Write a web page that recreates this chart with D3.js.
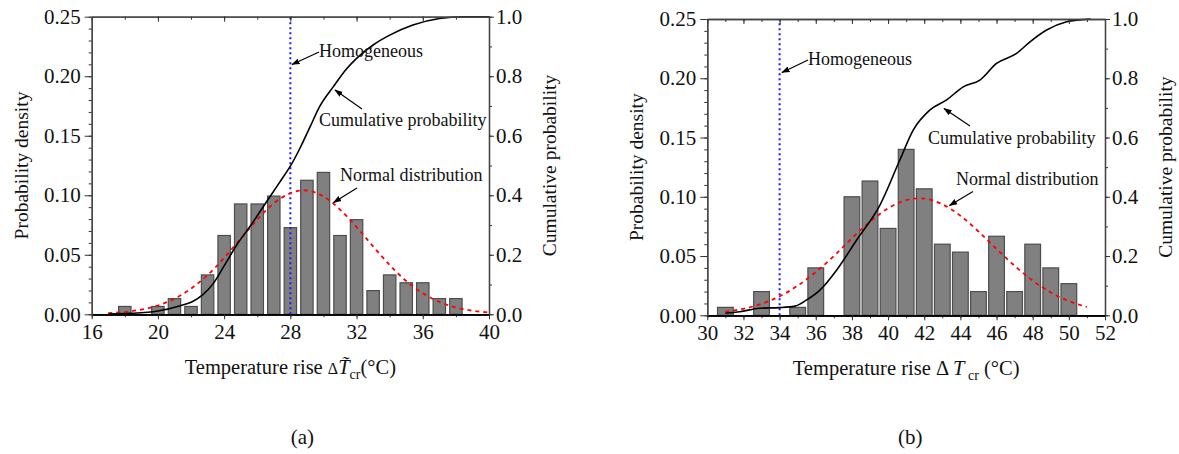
<!DOCTYPE html>
<html>
<head>
<meta charset="utf-8">
<script src="https://cdn.jsdelivr.net/npm/d3@7"></script>
<style>
body { margin: 0; background: #fff; }
svg text { font-family: "Liberation Serif", "Times New Roman", serif; fill: #111; }
</style>
</head>
<body>
<svg id="chart" width="1179" height="454"></svg>
<script>
// Panel (a): histogram bins (centre of bin) and probability density
var binsA = [18, 20, 21, 22, 23, 24, 25, 26, 27, 28, 29, 30, 31, 32, 33, 34, 35, 36, 37, 38];
var densA = [0.0066, 0.0066, 0.0132, 0.0066, 0.0331, 0.0662, 0.0927, 0.0927, 0.0993, 0.0728,
	0.1126, 0.1192, 0.0662, 0.0795, 0.0199, 0.0331, 0.0265, 0.0265, 0.0132, 0.0132];
// normal distribution
var normXA = [17, 18, 19, 20, 21, 22, 23, 24, 25, 26, 27, 28, 29, 30, 31, 32, 33, 34, 35, 36, 37, 38, 39, 40];
var normYA = [0.0009, 0.0019, 0.004, 0.0074, 0.0131, 0.0216, 0.033, 0.0474, 0.0636, 0.0796, 0.0932, 0.1017,
	0.104, 0.099, 0.088, 0.0733, 0.057, 0.0414, 0.028, 0.0177, 0.0105, 0.0058, 0.003, 0.0015];
// cumulative probability
var cumXA = [17, 18.3, 20, 21.3, 22.1, 22.7, 23.35, 23.97, 24.76, 25.56, 26.37, 26.97, 27.58, 27.98,
	28.58, 29.19, 29.79, 30.6, 31.4, 32, 33, 34, 35.4, 37, 38.45, 40];
var cumYA = [0.001, 0.003, 0.011, 0.028, 0.043, 0.065, 0.104, 0.16, 0.233, 0.295, 0.362, 0.412, 0.462, 0.496,
	0.558, 0.63, 0.70, 0.765, 0.825, 0.86, 0.905, 0.938, 0.972, 0.994, 1.0, 1.0];
var homoA = 28;

// Panel (b)
var binsB = [31, 33, 35, 36, 38, 39, 40, 41, 42, 43, 44, 45, 46, 47, 48, 49, 50];
var densB = [0.0067, 0.02, 0.0067, 0.04, 0.1, 0.1133, 0.0733, 0.14, 0.1067, 0.06, 0.0533, 0.02,
	0.0667, 0.02, 0.06, 0.04, 0.0267];
var normXB = [31, 32, 33, 34, 35, 36, 37, 38, 39, 40, 41, 42, 43, 44, 45, 46, 47, 48, 49, 50, 51];
var normYB = [0.003, 0.0055, 0.0097, 0.016, 0.025, 0.0365, 0.05, 0.065, 0.079, 0.0903, 0.0972, 0.0985,
	0.0937, 0.084, 0.0707, 0.056, 0.0418, 0.0293, 0.0193, 0.012, 0.007];
var cumXB = [31, 31.8, 32.9, 34, 34.85, 35.5, 36.23, 37.16, 38.26, 39.55, 40.65, 41.39, 42.32, 43.24,
	44.16, 45.08, 46, 47.11, 47.85, 48.77, 49.88, 50.6, 51.2];
var cumYB = [0.007, 0.012, 0.024, 0.026, 0.031, 0.052, 0.085, 0.153, 0.254, 0.372, 0.524, 0.625, 0.693, 0.727,
	0.771, 0.794, 0.85, 0.884, 0.923, 0.963, 0.991, 0.997, 1.0];
var homoB = 34;

// axis ticks
var densTicks = [0, 0.05, 0.1, 0.15, 0.2, 0.25];
var cumTicks = [0, 0.2, 0.4, 0.6, 0.8, 1.0];

var svg = d3.select("#chart");

var defs = svg.append("defs");
defs.append("marker").attr("id", "arrow")
	.attr("viewBox", "0 0 10 10").attr("refX", 9).attr("refY", 5)
	.attr("markerWidth", 7).attr("markerHeight", 7).attr("orient", "auto")
	.append("path").attr("d", "M0,1.5 L10,5 L0,8.5 Z").attr("fill", "#000");

function drawPanel (p)
{
	var x = d3.scaleLinear().domain(p.xDomain).range([p.left, p.right]);
	var y = d3.scaleLinear().domain([0, 0.25]).range([p.bottom, p.top]);
	var y2 = d3.scaleLinear().domain([0, 1]).range([p.bottom, p.top]);
	var g = svg.append("g");

	// bars
	var bw = x(p.xDomain[0] + p.barW) - x(p.xDomain[0]);
	g.selectAll("rect.bar").data(p.bins).enter().append("rect")
		.attr("class", "bar")
		.attr("x", function (d) {return x(d) - bw/2;})
		.attr("y", function (d, i) {return y(p.dens[i]);})
		.attr("width", bw)
		.attr("height", function (d, i) {return y(0) - y(p.dens[i]);})
		.attr("fill", "#808080").attr("stroke", "#4d4d4d").attr("stroke-width", 1.2);

	// homogeneous line
	g.append("line")
		.attr("x1", x(p.homo)).attr("x2", x(p.homo))
		.attr("y1", y(0)).attr("y2", y(0.25))
		.attr("stroke", "#1a1aff").attr("stroke-width", 2).attr("stroke-dasharray", "2,3");

	// normal distribution
	g.append("path")
		.datum(d3.zip(p.normX, p.normY))
		.attr("d", d3.line().x(function (d) {return x(d[0]);}).y(function (d) {return y(d[1]);}).curve(d3.curveNatural))
		.attr("fill", "none").attr("stroke", "#ff0000").attr("stroke-width", 1.8).attr("stroke-dasharray", "4,4");

	// cumulative probability
	g.append("path")
		.datum(d3.zip(p.cumX, p.cumY))
		.attr("d", d3.line().x(function (d) {return x(d[0]);}).y(function (d) {return y2(d[1]);}).curve(d3.curveMonotoneX))
		.attr("fill", "none").attr("stroke", "#000").attr("stroke-width", 1.6);

	// axes
	var xMajor = d3.range(p.xDomain[0], p.xDomain[1] + 0.01, p.xMajor);
	var xMinor = d3.range(p.xDomain[0], p.xDomain[1] + 0.01, p.xMinor);
	var yMinor = d3.range(0, 0.2501, 0.01);
	var y2Minor = d3.range(0, 1.001, 0.1);

	var axB = g.append("g").attr("transform", "translate(0," + p.bottom + ")");
	axB.append("g").call(d3.axisBottom(x).tickValues(xMinor).tickSize(3).tickSizeOuter(0).tickFormat(""));
	axB.append("g").call(d3.axisBottom(x).tickValues(xMajor).tickSize(5).tickSizeOuter(0).tickPadding(5).tickFormat(d3.format("d")));

	var axT = g.append("g").attr("transform", "translate(0," + p.top + ")");
	axT.append("g").call(d3.axisTop(x).tickValues(xMinor).tickSize(-3).tickSizeOuter(0).tickFormat(""));
	axT.append("g").call(d3.axisTop(x).tickValues(xMajor).tickSize(-5).tickSizeOuter(0).tickFormat(""));

	var axL = g.append("g").attr("transform", "translate(" + p.left + ",0)");
	axL.append("g").call(d3.axisLeft(y).tickValues(yMinor).tickSize(3).tickSizeOuter(0).tickFormat(""));
	axL.append("g").call(d3.axisLeft(y).tickValues(densTicks).tickSize(7).tickSizeOuter(0).tickPadding(4).tickFormat(d3.format(".2f")));

	var axR = g.append("g").attr("transform", "translate(" + p.right + ",0)");
	axR.append("g").call(d3.axisRight(y2).tickValues(y2Minor).tickSize(3).tickSizeOuter(0).tickFormat(""));
	axR.append("g").call(d3.axisRight(y2).tickValues(cumTicks).tickSize(5).tickSizeOuter(0).tickPadding(2).tickFormat(d3.format(".1f")));

	g.selectAll(".tick text").style("font-size", "21px").attr("fill", "#111");
	g.selectAll(".tick line").attr("stroke", "#333");
	g.selectAll(".domain").attr("stroke", "#444").attr("stroke-width", 1.3);
	axB.selectAll(".domain").attr("stroke", "#000").attr("stroke-width", 1.8);

	// axis titles
	g.append("text")
		.attr("transform", "translate(" + (p.left - 71) + "," + ((p.top + p.bottom)/2) + ") rotate(-90)")
		.attr("text-anchor", "middle").attr("dy", "0.35em").style("font-size", "19.5px")
		.text("Probability density");
	g.append("text")
		.attr("transform", "translate(" + (p.right + 60) + "," + ((p.top + p.bottom)/2) + ") rotate(-90)")
		.attr("text-anchor", "middle").attr("dy", "0.35em").style("font-size", "19.5px")
		.text("Cumulative probability");

	var xt = g.append("text")
		.attr("x", (p.left + p.right)/2 + p.xtShift).attr("y", p.bottom + 60)
		.attr("text-anchor", "middle").style("font-size", "20.5px");
	xt.append("tspan").text("Temperature rise ");
	xt.append("tspan").style("font-size", p.tilde ? "16px" : "20.5px").text("\u0394");
	if (!p.tilde) xt.append("tspan").text(" ");
	xt.append("tspan").style("font-style", "italic").text(p.tilde ? "T\u0303" : "T");
	xt.append("tspan").attr("dy", 5).style("font-size", "14px").text(p.tilde ? "cr" : " cr");
	xt.append("tspan").attr("dy", -5).text(p.tilde ? "(\u00B0C)" : " (\u00B0C)");

	g.append("text")
		.attr("x", (p.left + p.right)/2 + p.tagShift).attr("y", 444)
		.attr("text-anchor", "middle").style("font-size", "21px")
		.text(p.tag);

	// annotations
	p.notes.forEach(function (n) {
		g.append("text").attr("x", n.tx).attr("y", n.ty).attr("dy", "0.35em")
			.style("font-size", "18px").text(n.text);
		g.append("line")
			.attr("x1", n.a[0]).attr("y1", n.a[1]).attr("x2", n.a[2]).attr("y2", n.a[3])
			.attr("stroke", "#000").attr("stroke-width", 1.2).attr("marker-end", "url(#arrow)");
	});
}

drawPanel({
	left: 91.7, right: 489, top: 16.7, bottom: 314.3,
	xDomain: [16, 40], xMajor: 4, xMinor: 2, barW: 0.75,
	bins: binsA, dens: densA, normX: normXA, normY: normYA, cumX: cumXA, cumY: cumYA, homo: homoA,
	tilde: true, tag: "(a)", xtShift: 0, tagShift: 12,
	notes: [
		{text: "Homogeneous", tx: 319, ty: 51, a: [319, 52, 292, 64.5]},
		{text: "Cumulative probability", tx: 319, ty: 120, a: [362, 109, 335, 90]},
		{text: "Normal distribution", tx: 340, ty: 175, a: [357, 188, 333.5, 202.5]}
	]
});

drawPanel({
	left: 707.3, right: 1105, top: 19, bottom: 315.3,
	xDomain: [30, 52], xMajor: 2, xMinor: 1, barW: 0.87,
	bins: binsB, dens: densB, normX: normXB, normY: normYB, cumX: cumXB, cumY: cumYB, homo: homoB,
	tilde: false, tag: "(b)", xtShift: 0, tagShift: 4,
	notes: [
		{text: "Homogeneous", tx: 808, ty: 59, a: [808, 60, 782, 72.5]},
		{text: "Cumulative probability", tx: 928, ty: 138, a: [970, 126, 944, 108.5]},
		{text: "Normal distribution", tx: 956, ty: 179, a: [973, 191.5, 949.5, 205.5]}
	]
});
</script>
</body>
</html>
